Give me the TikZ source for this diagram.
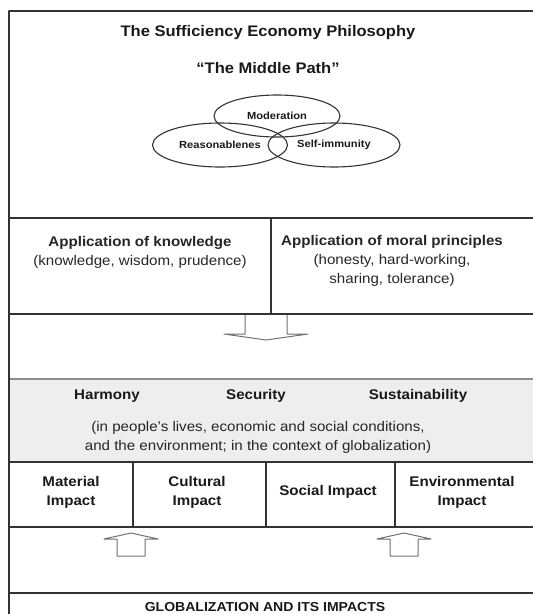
\documentclass[tikz,border=0pt]{standalone}
\usepackage{fontspec}
\setmainfont{Liberation Sans}[FakeStretch=1.08]
\usepackage{tkz-euclide}
\usepackage{tikz}
\usetikzlibrary{shapes.geometric}

\definecolor{framegray}{HTML}{333333}
\definecolor{arrowgray}{HTML}{707070}
\definecolor{bandfill}{HTML}{EEEEEE}
\definecolor{bandedge}{HTML}{8C8C8C}

\begin{document}
\begin{tikzpicture}[x=1pt, y=-1pt,
    head/.style={font=\fontsize{15.3}{18}\selectfont\bfseries, text=black!90},
    lab/.style={font=\fontsize{14}{19}\selectfont\bfseries, align=center, text=black!90},
    txt/.style={font=\fontsize{14}{19}\selectfont, align=center, text=black!85},
    oval/.style={ellipse, draw=framegray, line width=1.1pt, inner sep=0pt,
        font=\fontsize{10.3}{12}\selectfont\bfseries, text=black!90}]
    \useasboundingbox (0,0) rectangle (533,614);
    % frame points
    \tkzDefPoints{9/11/A,533/11/B,9/614/C,9/218/D,533/218/E,271/218/F,271/314/G,
        9/314/H,533/314/I,9/379/W,533/379/X,9/462/J,533/462/K,133/462/L,133/527/M,
        266/462/N,266/527/O,395/462/P,395/527/Q,9/527/R,533/527/S,9/593/U,533/593/V}
    % block arrows
    \tkzDefPoints{245/314/d1,245/334/d2,224/334/d3,266/340/d4,308/334/d5,287/334/d6,287/314/d7}
    \tkzDefPoints{117/556/l1,117/539/l2,104/539/l3,131/533/l4,158/539/l5,145/539/l6,145/556/l7}
    \tkzDefPoints{390/556/r1,390/539/r2,377/539/r3,404/533/r4,431/539/r5,418/539/r6,418/556/r7}
    \fill[bandfill] (W) rectangle (K);
    \tkzDrawPolygon[color=arrowgray, line width=1pt](d1,d2,d3,d4,d5,d6,d7)
    \tkzDrawPolygon[color=arrowgray, line width=1pt](l1,l2,l3,l4,l5,l6,l7)
    \tkzDrawPolygon[color=arrowgray, line width=1pt](r1,r2,r3,r4,r5,r6,r7)
    \tkzDrawSegments[color=bandedge, line width=1.1pt](W,X)
    \tkzDrawSegments[color=framegray, line width=1.3pt](A,B A,C D,E F,G H,I J,K L,M N,O P,Q R,S U,V)

    \node[head] (title) at (268,33) {The Sufficiency Economy Philosophy};
    \node[head] (mpath) at (268,68) {“The Middle Path”};
    \node[oval, minimum width=126pt, minimum height=42pt] (mod) at (277,116) {Moderation};
    \node[oval, minimum width=135pt, minimum height=44pt] (rea) at (220,145) {Reasonablenes};
    \node[oval, minimum width=132pt, minimum height=44pt] (sel) at (334,145) {Self-immunity};

    \node[txt] (know) at (140,252.5) {{\bfseries Application of knowledge}\\(knowledge, wisdom, prudence)};
    \node[txt] (moral) at (392,261) {{\bfseries Application of moral principles}\\(honesty, hard-working,\\sharing, tolerance)};

    \node[lab] (harm) at (107,396) {Harmony};
    \node[lab] (secu) at (256,396) {Security};
    \node[lab] (sust) at (418,396) {Sustainability};
    \node[txt] (ctx) at (258,437.5) {(in people’s lives, economic and social conditions,\\and the environment; in the context of globalization)};

    \node[lab] (mat) at (71,492.5) {Material\\Impact};
    \node[lab] (cul) at (197,492.5) {Cultural\\Impact};
    \node[lab] (soc) at (328,492) {Social Impact};
    \node[lab] (env) at (462,492.5) {Environmental\\Impact};
    \node[font=\fontsize{13}{15}\selectfont\bfseries, text=black!90] (glob) at (265,607) {GLOBALIZATION AND ITS IMPACTS};
\end{tikzpicture}
\end{document}
